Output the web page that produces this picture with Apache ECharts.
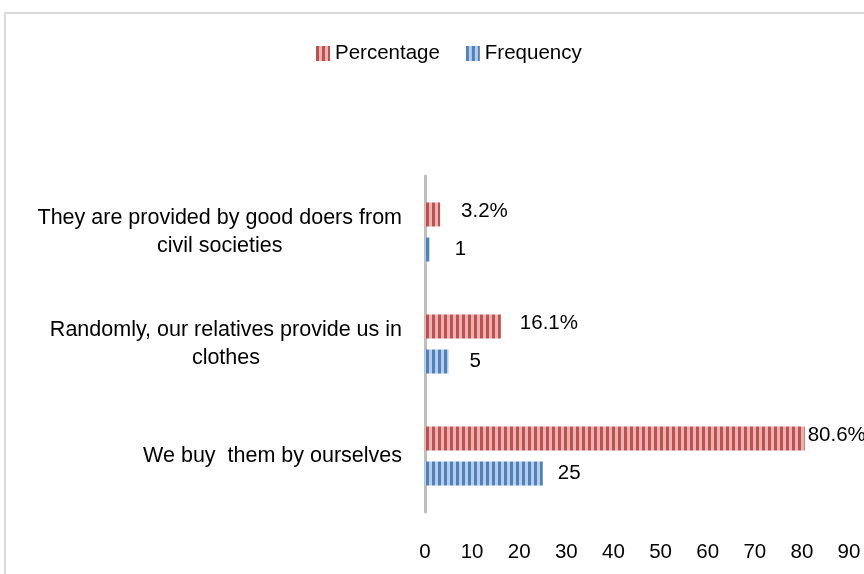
<!DOCTYPE html>
<html>
<head>
<meta charset="utf-8">
<style>
  html, body { margin: 0; padding: 0; background: #ffffff; }
  #chart { width: 864px; height: 574px; }
</style>
<script src="https://cdn.jsdelivr.net/npm/echarts@6/dist/echarts.min.js"></script>
</head>
<body>
<div id="chart"></div>
<script>
// ---- data (bottom to top, as on the category axis) ----
const categories = [
  "We buy  them by ourselves",
  "Randomly, our relatives provide us in clothes",
  "They are provided by good doers from civil societies"
];
const percentage = [80.6, 16.1, 3.2];
const frequency = [25, 5, 1];
const xTicks = { min: 0, max: 90, interval: 10 };

// ---- styling helpers (not data) ----
const pctLabelGap = [3, 19, 21];
const freqLabelGap = [15, 21, 25];
const FONT = "'Liberation Sans', Arial, sans-serif";

function stripes(dark, light) {
  const c = document.createElement('canvas');
  c.width = 6; c.height = 6;
  const g = c.getContext('2d');
  g.fillStyle = light; g.fillRect(0, 0, 6, 6);
  g.fillStyle = dark; g.fillRect(0, 0, 3, 6);
  return { image: c, repeat: 'repeat' };
}
const redPattern = stripes('#C0504D', '#E8B4B3');
const bluePattern = stripes('#4F81BD', '#B7CCE6');

function wrap(text, maxChars) {
  const words = text.split(' ');
  const lines = [];
  let cur = '';
  words.forEach(function (w, i) {
    const cand = i === 0 ? w : cur + ' ' + w;
    if (cand.length > maxChars && cur.trim().length) {
      lines.push(cur);
      cur = w;
    } else {
      cur = cand;
    }
  });
  lines.push(cur);
  return lines;
}

const chart = echarts.init(document.getElementById('chart'), null, { renderer: 'canvas' });
chart.setOption({
  backgroundColor: '#ffffff',
  animation: false,
  textStyle: { fontFamily: FONT },
  graphic: [{
    type: 'rect',
    shape: { x: 5, y: 13, width: 900, height: 620 },
    style: { fill: 'none', stroke: '#D9D9D9', lineWidth: 2 },
    silent: true, z: -10
  }],
  legend: {
    left: 311, top: 38,
    itemWidth: 14, itemHeight: 15, itemGap: 26,
    icon: 'rect',
    textStyle: { fontSize: 20.5, color: '#000', fontFamily: FONT },
    data: ['Percentage', 'Frequency']
  },
  grid: { left: 425, right: 15, top: 176, bottom: 62, containLabel: false },
  xAxis: {
    type: 'value',
    min: xTicks.min, max: xTicks.max, interval: xTicks.interval,
    axisLine: { show: false },
    axisTick: { show: false },
    splitLine: { show: false },
    axisLabel: { margin: 30, fontSize: 20.5, color: '#000', fontFamily: FONT }
  },
  yAxis: {
    type: 'category',
    data: categories,
    axisLine: { show: true, lineStyle: { color: '#BFBFBF', width: 3 } },
    axisTick: { show: false },
    axisLabel: {
      margin: 23,
      formatter: function (v) {
        return wrap(v, 37).map(function (l) { return '{c|' + l + '}'; }).join('\n');
      },
      rich: {
        c: { fontSize: 21.5, lineHeight: 28, align: 'center', color: '#000', fontFamily: FONT }
      }
    }
  },
  series: [
    {
      name: 'Percentage',
      type: 'bar',
      barWidth: 24,
      barGap: '46%',
      itemStyle: { color: redPattern },
      label: {
        show: true, position: 'right', color: '#000', fontSize: 20.5, fontFamily: FONT,
        offset: [0, -3],
        formatter: function (p) { return p.value + '%'; }
      },
      data: percentage.map(function (v, i) { return { value: v, label: { distance: pctLabelGap[i] } }; })
    },
    {
      name: 'Frequency',
      type: 'bar',
      barWidth: 24,
      barGap: '46%',
      itemStyle: { color: bluePattern },
      label: {
        show: true, position: 'right', color: '#000', fontSize: 20.5, fontFamily: FONT
      },
      data: frequency.map(function (v, i) { return { value: v, label: { distance: freqLabelGap[i] } }; })
    }
  ]
});
</script>
</body>
</html>
